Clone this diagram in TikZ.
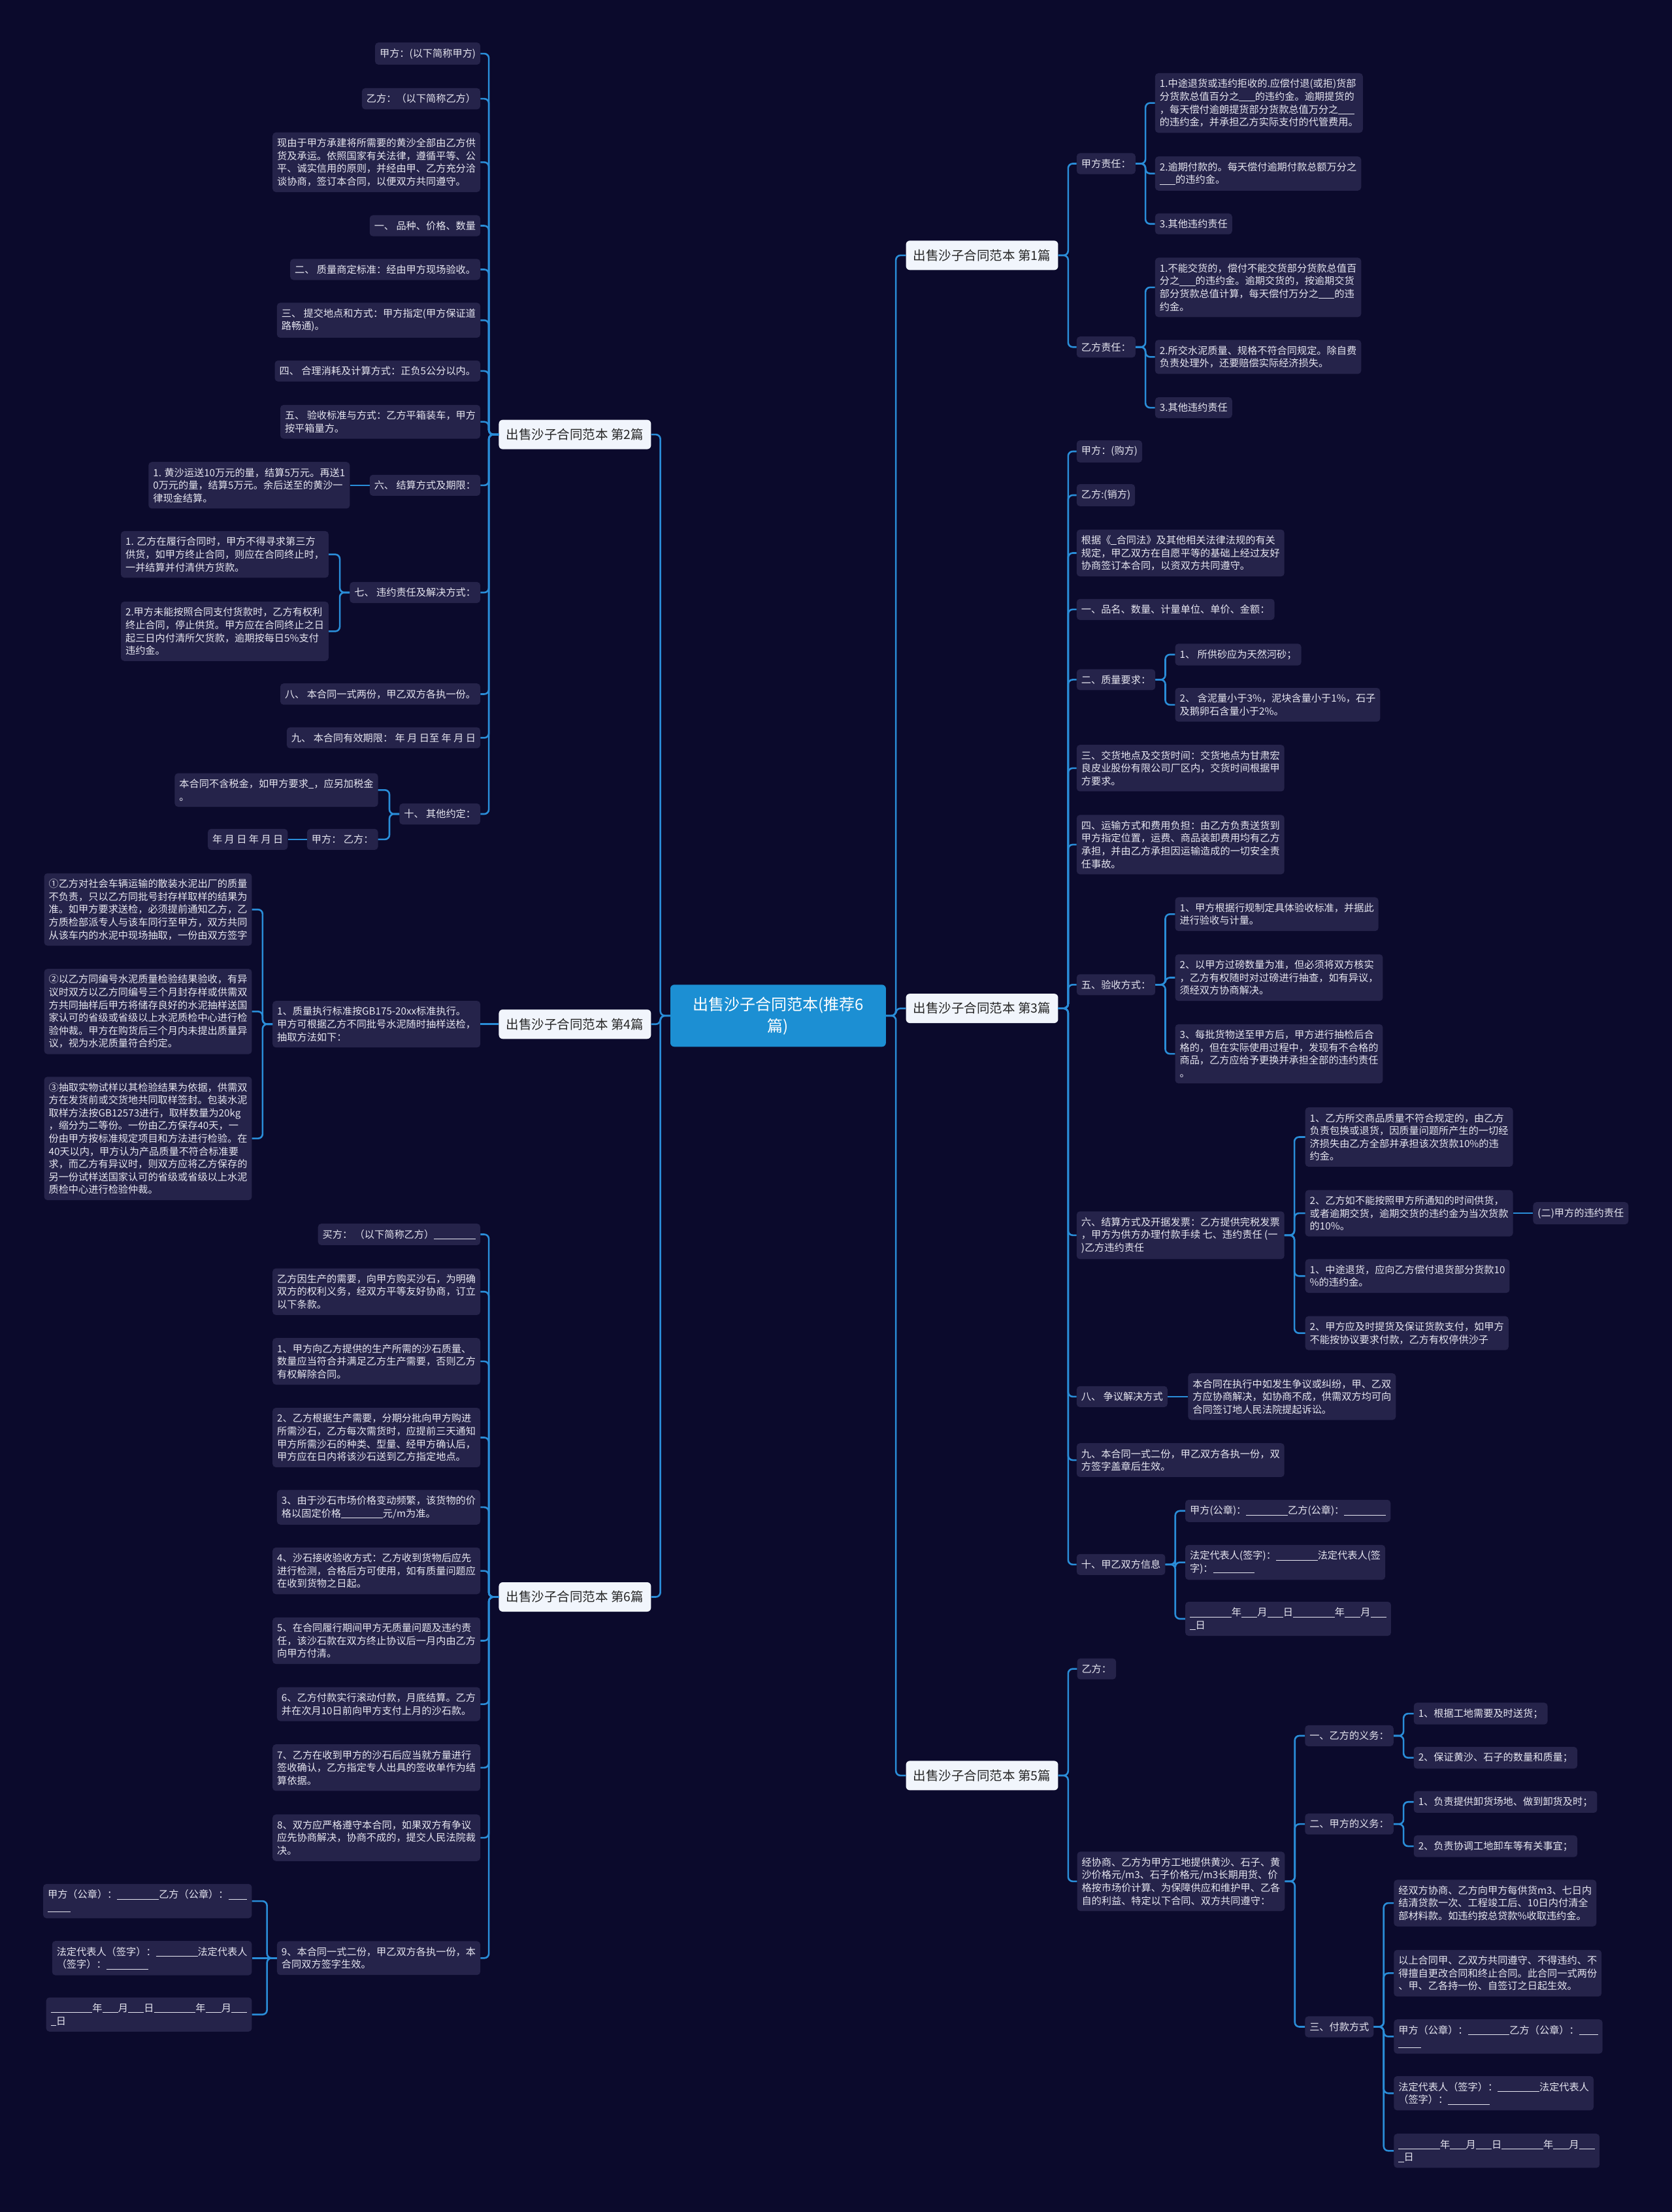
\documentclass[tikz,border=0pt]{standalone}
\usepackage{fontspec}
\setmainfont{Noto Sans CJK SC}
\usetikzlibrary{calc}
\definecolor{bg}{HTML}{0B0A2C}
\definecolor{leaffill}{HTML}{25234A}
\definecolor{linec}{HTML}{2A8DD8}
\definecolor{lonefill}{HTML}{F1F5FC}
\definecolor{rootfill}{HTML}{1C8FD3}
\definecolor{leaftext}{HTML}{E6E6F0}
\newcommand\ub[1]{\rule[-0.12em]{#1em}{0.06em}}
\newcommand\connR[2]{\draw[conn] (#1.east) -- ++(7,0) |- (#2.west);}
\newcommand\connL[2]{\draw[conn] (#1.west) -- ++(-7,0) |- (#2.east);}
\newcommand\connSR[2]{\draw[conn] (#1.east) -- (#2.west);}
\newcommand\connSL[2]{\draw[conn] (#1.west) -- (#2.east);}
\begin{document}
\begin{tikzpicture}[x=2.1603pt,y=-2.1603pt,
  conn/.style={draw=linec,line width=2.6pt,rounded corners=7pt},
  leaf/.style={fill=leaffill,text=leaftext,rounded corners=5pt,inner xsep=7pt,inner ysep=9pt,align=left,font=\fontsize{15.2pt}{19.6pt}\selectfont},
  lr/.style={leaf,anchor=west},
  ll/.style={leaf,anchor=east},
  lone/.style={fill=lonefill,text=black!85,rounded corners=6pt,minimum width=233pt,minimum height=45pt,inner xsep=10pt,font=\fontsize{19.5pt}{24pt}\selectfont},
  root/.style={fill=rootfill,text=white,rounded corners=6pt,minimum width=330pt,minimum height=95pt,align=center,font=\fontsize{24pt}{33pt}\selectfont}]
\fill[bg] (0,0) rectangle (1185,1568);
\useasboundingbox (0,0) rectangle (1185,1568);

% root and level 1
\node[root] (root) at (551.5,720) {出售沙子合同范本(推荐6\\篇)};
\node[lone,anchor=west] (R1) at (642,181) {出售沙子合同范本 第1篇};
\node[lone,anchor=west] (R3) at (642,714.8) {出售沙子合同范本 第3篇};
\node[lone,anchor=west] (R5) at (642,1258.6) {出售沙子合同范本 第5篇};
\node[lone,anchor=east] (L2) at (461.5,308) {出售沙子合同范本 第2篇};
\node[lone,anchor=east] (L4) at (461.5,726) {出售沙子合同范本 第4篇};
\node[lone,anchor=east] (L6) at (461.5,1132) {出售沙子合同范本 第6篇};

% ---------- 第1篇
\node[lr] (R1a) at (763,116) {甲方责任：};
\node[lr] (R1b) at (763,246) {乙方责任：};
\node[lr] (R1a1) at (818.6,73) {1.中途退货或违约拒收的.应偿付退(或拒)货部\\分货款总值百分之\ub{1.6}的违约金。逾期提货的\\，每天偿付逾朗提货部分货款总值万分之\ub{1.6}\\的违约金，并承担乙方实际支付的代管费用。};
\node[lr] (R1a2) at (818.6,123) {2.逾期付款的。每天偿付逾期付款总额万分之\\\ub{1.6}的违约金。};
\node[lr] (R1a3) at (818.6,158.7) {3.其他违约责任};
\node[lr] (R1b1) at (818.6,203.7) {1.不能交货的，偿付不能交货部分货款总值百\\分之\ub{1.6}的违约金。逾期交货的，按逾期交货\\部分货款总值计算，每天偿付万分之\ub{1.6}的违\\约金。};
\node[lr] (R1b2) at (818.6,253) {2.所交水泥质量、规格不符合同规定。除自费\\负责处理外，还要赔偿实际经济损失。};
\node[lr] (R1b3) at (818.6,289) {3.其他违约责任};

% ---------- 第3篇
\node[lr] (R3a) at (763,320) {甲方：(购方)};
\node[lr] (R3b) at (763,351) {乙方:(销方)};
\node[lr] (R3c) at (763,392) {根据《\ub{0.55}合同法》及其他相关法律法规的有关\\规定，甲乙双方在自愿平等的基础上经过友好\\协商签订本合同，以资双方共同遵守。};
\node[lr] (R3d) at (763,432) {一、品名、数量、计量单位、单价、金额：};
\node[lr] (R3e) at (763,481.8) {二、质量要求：};
\node[lr] (R3e1) at (832.8,464) {1、 所供砂应为天然河砂；};
\node[lr] (R3e2) at (832.8,499.6) {2、 含泥量小于3\%，泥块含量小于1\%，石子\\及鹅卵石含量小于2\%。};
\node[lr] (R3f) at (763,544.5) {三、交货地点及交货时间：交货地点为甘肃宏\\良皮业股份有限公司厂区内，交货时间根据甲\\方要求。};
\node[lr] (R3g) at (763,598.7) {四、运输方式和费用负担：由乙方负责送货到\\甲方指定位置，运费、商品装卸费用均有乙方\\承担，并由乙方承担因运输造成的一切安全责\\任事故。};
\node[lr] (R3h) at (763,698) {五、验收方式：};
\node[lr] (R3h1) at (832.8,648) {1、甲方根据行规制定具体验收标准，并据此\\进行验收与计量。};
\node[lr] (R3h2) at (832.8,693) {2、以甲方过磅数量为准，但必须将双方核实\\，乙方有权随时对过磅进行抽查，如有异议，\\须经双方协商解决。};
\node[lr] (R3h3) at (832.8,747) {3、每批货物送至甲方后，甲方进行抽检后合\\格的，但在实际使用过程中，发现有不合格的\\商品，乙方应给予更换并承担全部的违约责任\\。};
\node[lr] (R3i) at (763,875.6) {六、结算方式及开据发票：乙方提供完税发票\\，甲方为供方办理付款手续 七、违约责任 (一\\)乙方违约责任};
\node[lr] (R3i1) at (925,806) {1、乙方所交商品质量不符合规定的，由乙方\\负责包换或退货，因质量问题所产生的一切经\\济损失由乙方全部并承担该次货款10\%的违\\约金。};
\node[lr] (R3i2) at (925,860) {2、乙方如不能按照甲方所通知的时间供货，\\或者逾期交货，逾期交货的违约金为当次货款\\的10\%。};
\node[lr] (R3i2a) at (1086.5,860) {(二)甲方的违约责任};
\node[lr] (R3i3) at (925,904.5) {1、中途退货，应向乙方偿付退货部分货款10\\\%的违约金。};
\node[lr] (R3i4) at (925,945) {2、甲方应及时提货及保证货款支付，如甲方\\不能按协议要求付款，乙方有权停供沙子};
\node[lr] (R3j) at (763,990) {八、 争议解决方式};
\node[lr] (R3j1) at (842,990) {本合同在执行中如发生争议或纠纷，甲、乙双\\方应协商解决，如协商不成，供需双方均可向\\合同签订地人民法院提起诉讼。};
\node[lr] (R3k) at (763,1035) {九、本合同一式二份，甲乙双方各执一份，双\\方签字盖章后生效。};
\node[lr] (R3l) at (763,1109) {十、甲乙双方信息};
\node[lr] (R3l1) at (840,1071) {甲方(公章)：\ub{4.2}乙方(公章)：\ub{4.2}};
\node[lr] (R3l2) at (840,1107.5) {法定代表人(签字)：\ub{4.2}法定代表人(签\\字)：\ub{4.2}};
\node[lr] (R3l3) at (840,1147.5) {\ub{4.2}年\ub{1.6}月\ub{1.6}日\ub{4.2}年\ub{1.6}月\ub{1.6}\\\ub{0.55}日};

% ---------- 第5篇
\node[lr] (R5a) at (763.3,1183) {乙方：};
\node[lr] (R5b) at (763.3,1333.6) {经协商、乙方为甲方工地提供黄沙、石子、黄\\沙价格元/m3、石子价格元/m3长期用货、价\\格按市场价计算、为保障供应和维护甲、乙各\\自的利益、特定以下合同、双方共同遵守：};
\node[lr] (R5b1) at (924.8,1230.4) {一、乙方的义务：};
\node[lr] (R5b11) at (1001.9,1214.7) {1、根据工地需要及时送货；};
\node[lr] (R5b12) at (1001.9,1246) {2、保证黄沙、石子的数量和质量；};
\node[lr] (R5b2) at (924.8,1293) {二、甲方的义务：};
\node[lr] (R5b21) at (1001.9,1277.3) {1、负责提供卸货场地、做到卸货及时；};
\node[lr] (R5b22) at (1001.9,1308.7) {2、负责协调工地卸车等有关事宜；};
\node[lr] (R5b3) at (924.8,1436.7) {三、付款方式};
\node[lr] (R5b31) at (987.8,1349) {经双方协商、乙方向甲方每供货m3、七日内\\结清贷款一次、工程竣工后、10日内付清全\\部材料款。如违约按总贷款\%收取违约金。};
\node[lr] (R5b32) at (987.8,1398.7) {以上合同甲、乙双方共同遵守、不得违约、不\\得擅自更改合同和终止合同。此合同一式两份\\、甲、乙各持一份、自签订之日起生效。};
\node[lr] (R5b33) at (987.8,1443.6) {甲方（公章）：\ub{4.2}乙方（公章）：\ub{1.9}\\\ub{2.3}};
\node[lr] (R5b34) at (987.8,1483.8) {法定代表人（签字）：\ub{4.2}法定代表人\\（签字）：\ub{4.2}};
\node[lr] (R5b35) at (987.8,1524.6) {\ub{4.2}年\ub{1.6}月\ub{1.6}日\ub{4.2}年\ub{1.6}月\ub{1.6}\\\ub{0.55}日};

% ---------- 第2篇
\node[ll] (L2a) at (340.5,38) {甲方：(以下简称甲方)};
\node[ll] (L2b) at (340.5,70) {乙方：（以下简称乙方）};
\node[ll] (L2c) at (340.5,115) {现由于甲方承建将所需要的黄沙全部由乙方供\\货及承运。依照国家有关法律，遵循平等、公\\平、诚实信用的原则，并经由甲、乙方充分洽\\谈协商，签订本合同，以便双方共同遵守。};
\node[ll] (L2d) at (340.5,160) {一、 品种、价格、数量};
\node[ll] (L2e) at (340.5,191) {二、 质量商定标准：经由甲方现场验收。};
\node[ll] (L2f) at (340.5,227) {三、 提交地点和方式：甲方指定(甲方保证道\\路畅通)。};
\node[ll] (L2g) at (340.5,263) {四、 合理消耗及计算方式：正负5公分以内。};
\node[ll] (L2h) at (340.5,299) {五、 验收标准与方式：乙方平箱装车，甲方\\按平箱量方。};
\node[ll] (L2i) at (340.5,344) {六、 结算方式及期限：};
\node[ll] (L2i1) at (248,344) {1. 黄沙运送10万元的量，结算5万元。再送1\\0万元的量，结算5万元。余后送至的黄沙一\\律现金结算。};
\node[ll] (L2j) at (340.5,420) {七、 违约责任及解决方式：};
\node[ll] (L2j1) at (233,393) {1. 乙方在履行合同时，甲方不得寻求第三方\\供货，如甲方终止合同，则应在合同终止时，\\一并结算并付清供方货款。};
\node[ll] (L2j2) at (233,447.5) {2.甲方未能按照合同支付货款时，乙方有权利\\终止合同，停止供货。甲方应在合同终止之日\\起三日内付清所欠货款，逾期按每日5\%支付\\违约金。};
\node[ll] (L2k) at (340.5,492) {八、 本合同一式两份，甲乙双方各执一份。};
\node[ll] (L2l) at (340.5,523) {九、 本合同有效期限： 年 月 日至 年 月 日};
\node[ll] (L2m) at (340.5,577) {十、 其他约定：};
\node[ll] (L2m1) at (268,560) {本合同不含税金，如甲方要求\ub{0.55}，应另加税金\\。};
\node[ll] (L2m2) at (268,595) {甲方： 乙方：};
\node[ll] (L2m21) at (204,595) {年 月 日 年 月 日};

% ---------- 第4篇
\node[ll] (L4a) at (340.5,726) {1、质量执行标准按GB175-20xx标准执行。\\甲方可根据乙方不同批号水泥随时抽样送检，\\抽取方法如下：};
\node[ll] (L4a1) at (178.6,644.7) {①乙方对社会车辆运输的散装水泥出厂的质量\\不负责，只以乙方同批号封存样取样的结果为\\准。如甲方要求送检，必须提前通知乙方，乙\\方质检部派专人与该车同行至甲方，双方共同\\从该车内的水泥中现场抽取，一份由双方签字};
\node[ll] (L4a2) at (178.6,717) {②以乙方同编号水泥质量检验结果验收，有异\\议时双方以乙方同编号三个月封存样或供需双\\方共同抽样后甲方将储存良好的水泥抽样送国\\家认可的省级或省级以上水泥质检中心进行检\\验仲裁。甲方在购货后三个月内未提出质量异\\议，视为水泥质量符合约定。};
\node[ll] (L4a3) at (178.6,807) {③抽取实物试样以其检验结果为依据，供需双\\方在发货前或交货地共同取样签封。包装水泥\\取样方法按GB12573进行，取样数量为20kg\\，缩分为二等份。一份由乙方保存40天，一\\份由甲方按标准规定项目和方法进行检验。在\\40天以内，甲方认为产品质量不符合标准要\\求，而乙方有异议时，则双方应将乙方保存的\\另一份试样送国家认可的省级或省级以上水泥\\质检中心进行检验仲裁。};

% ---------- 第6篇
\node[ll] (L6a) at (340.5,875) {买方： （以下简称乙方）\ub{4.2}};
\node[ll] (L6b) at (340.5,915.6) {乙方因生产的需要，向甲方购买沙石，为明确\\双方的权利义务，经双方平等友好协商，订立\\以下条款。};
\node[ll] (L6c) at (340.5,965) {1、甲方向乙方提供的生产所需的沙石质量、\\数量应当符合并满足乙方生产需要，否则乙方\\有权解除合同。};
\node[ll] (L6d) at (340.5,1019) {2、乙方根据生产需要，分期分批向甲方购进\\所需沙石，乙方每次需货时，应提前三天通知\\甲方所需沙石的种类、型量、经甲方确认后，\\甲方应在日内将该沙石送到乙方指定地点。};
\node[ll] (L6e) at (340.5,1068.4) {3、由于沙石市场价格变动频繁，该货物的价\\格以固定价格\ub{4.2}元/m为准。};
\node[ll] (L6f) at (340.5,1113.5) {4、沙石接收验收方式：乙方收到货物后应先\\进行检测，合格后方可使用，如有质量问题应\\在收到货物之日起。};
\node[ll] (L6g) at (340.5,1163) {5、在合同履行期间甲方无质量问题及违约责\\任，该沙石款在双方终止协议后一月内由乙方\\向甲方付清。};
\node[ll] (L6h) at (340.5,1208) {6、乙方付款实行滚动付款，月底结算。乙方\\并在次月10日前向甲方支付上月的沙石款。};
\node[ll] (L6i) at (340.5,1253) {7、乙方在收到甲方的沙石后应当就方量进行\\签收确认，乙方指定专人出具的签收单作为结\\算依据。};
\node[ll] (L6j) at (340.5,1302.7) {8、双方应严格遵守本合同，如果双方有争议\\应先协商解决，协商不成的，提交人民法院裁\\决。};
\node[ll] (L6k) at (340.5,1388) {9、本合同一式二份，甲乙双方各执一份，本\\合同双方签字生效。};
\node[ll] (L6k1) at (178.6,1347.6) {甲方（公章）：\ub{4.2}乙方（公章）：\ub{1.9}\\\ub{2.3}};
\node[ll] (L6k2) at (178.6,1388) {法定代表人（签字）：\ub{4.2}法定代表人\\（签字）：\ub{4.2}};
\node[ll] (L6k3) at (178.6,1428) {\ub{4.2}年\ub{1.6}月\ub{1.6}日\ub{4.2}年\ub{1.6}月\ub{1.6}\\\ub{0.55}日};

% ---------- connectors
\foreach \c in {R1,R3,R5} {\connR{root}{\c}}
\foreach \c in {L2,L4,L6} {\connL{root}{\c}}
\foreach \c in {R1a,R1b} {\connR{R1}{\c}}
\foreach \c in {R1a1,R1a2,R1a3} {\connR{R1a}{\c}}
\foreach \c in {R1b1,R1b2,R1b3} {\connR{R1b}{\c}}
\foreach \c in {R3a,R3b,R3c,R3d,R3e,R3f,R3g,R3h,R3i,R3j,R3k,R3l} {\connR{R3}{\c}}
\foreach \c in {R3e1,R3e2} {\connR{R3e}{\c}}
\foreach \c in {R3h1,R3h2,R3h3} {\connR{R3h}{\c}}
\foreach \c in {R3i1,R3i2,R3i3,R3i4} {\connR{R3i}{\c}}
\connSR{R3i2}{R3i2a}
\connSR{R3j}{R3j1}
\foreach \c in {R3l1,R3l2,R3l3} {\connR{R3l}{\c}}
\foreach \c in {R5a,R5b} {\connR{R5}{\c}}
\foreach \c in {R5b1,R5b2,R5b3} {\connR{R5b}{\c}}
\foreach \c in {R5b11,R5b12} {\connR{R5b1}{\c}}
\foreach \c in {R5b21,R5b22} {\connR{R5b2}{\c}}
\foreach \c in {R5b31,R5b32,R5b33,R5b34,R5b35} {\connR{R5b3}{\c}}
\foreach \c in {L2a,L2b,L2c,L2d,L2e,L2f,L2g,L2h,L2i,L2j,L2k,L2l,L2m} {\connL{L2}{\c}}
\connSL{L2i}{L2i1}
\foreach \c in {L2j1,L2j2} {\connL{L2j}{\c}}
\foreach \c in {L2m1,L2m2} {\connL{L2m}{\c}}
\connSL{L2m2}{L2m21}
\connSL{L4}{L4a}
\foreach \c in {L4a1,L4a2,L4a3} {\connL{L4a}{\c}}
\foreach \c in {L6a,L6b,L6c,L6d,L6e,L6f,L6g,L6h,L6i,L6j,L6k} {\connL{L6}{\c}}
\foreach \c in {L6k1,L6k3} {\connL{L6k}{\c}}
\connSL{L6k}{L6k2}
\end{tikzpicture}
\end{document}
